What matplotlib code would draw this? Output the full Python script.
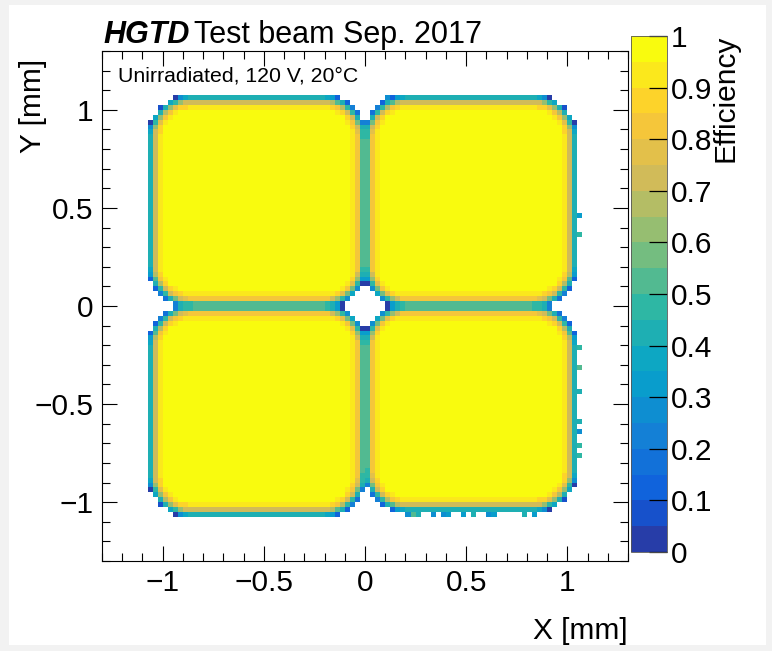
import numpy as np
import matplotlib
matplotlib.use("Agg")
import matplotlib.pyplot as plt
from matplotlib.colors import LinearSegmentedColormap, ListedColormap, BoundaryNorm
from matplotlib.patches import Rectangle
from matplotlib.ticker import FixedLocator, FuncFormatter, MultipleLocator

plt.rcParams["font.family"] = ["Liberation Sans", "DejaVu Sans"]

# ---- binning (mm) ----
x_range = (-1.3, 1.3)
y_range = (-1.3, 1.3)
n_bins = 104

# ---- pad layout: 2x2 pads, rectangle edges in mm (TL, TR, BL, BR) ----
pad_x0 = [-1.055, 0.0125, -1.055, 0.0125]
pad_x1 = [-0.0125, 1.03, -0.0125, 1.03]
pad_y0 = [0.0125, 0.0125, -1.055, -1.03]
pad_y1 = [1.055, 1.055, -0.0125, -0.0125]
corner_radius = 0.2

# ---- efficiency vs. depth inside the pad edge (mm) ----
edge_depth = [-0.025, -0.0125, 0.0, 0.0125, 0.025, 0.045, 0.065]
edge_eff = [0.0, 0.36, 0.50, 0.68, 0.82, 0.93, 1.0]

# ---- isolated bins just outside the right and bottom edges ----
extra_x = [1.0625, 1.0625, 1.0625, 1.0625, 1.0625, 1.0625, 1.0625, 1.0625, 1.0625,
           0.2125, 0.2375, 0.2625, 0.3375, 0.3875, 0.4125, 0.4875, 0.5375,
           0.6125, 0.6375, 0.7875, 0.8375, 0.1125]
extra_y = [0.4625, 0.3625, -0.2125, -0.3125, -0.4375, -0.5875, -0.6375, -0.7125, -0.7625,
           -1.0625, -1.0625, -1.0625, -1.0625, -1.0625, -1.0625, -1.0625, -1.0625,
           -1.0625, -1.0625, -1.0625, -1.0625, 1.0625]
extra_eff = [0.35, 0.45, 0.45, 0.50, 0.40, 0.40, 0.30, 0.45, 0.45,
             0.30, 0.50, 0.40, 0.30, 0.30, 0.35, 0.35, 0.40,
             0.30, 0.35, 0.40, 0.35, 0.25]

# ---- colour scale: ROOT kBird palette, 20 contour levels ----
bird_stops = [0.0, 0.125, 0.25, 0.375, 0.5, 0.625, 0.75, 0.875, 1.0]
bird_r = [0.2082, 0.0592, 0.0780, 0.0232, 0.1802, 0.5301, 0.8186, 0.9956, 0.9764]
bird_g = [0.1664, 0.3599, 0.5041, 0.6419, 0.7178, 0.7492, 0.7328, 0.7862, 0.9832]
bird_b = [0.5293, 0.8684, 0.8385, 0.7914, 0.6425, 0.4662, 0.3499, 0.1968, 0.0539]
n_levels = 20


def pad_depth(X, Y, x0, x1, y0, y1, r):
    """Signed distance to a rounded rectangle's edge, positive inside."""
    cx, cy = 0.5 * (x0 + x1), 0.5 * (y0 + y1)
    hx, hy = 0.5 * (x1 - x0), 0.5 * (y1 - y0)
    qx = np.abs(X - cx) - (hx - r)
    qy = np.abs(Y - cy) - (hy - r)
    outside = (np.hypot(np.maximum(qx, 0), np.maximum(qy, 0))
               + np.minimum(np.maximum(qx, qy), 0) - r)
    return -outside


x_edges = np.linspace(*x_range, n_bins + 1)
y_edges = np.linspace(*y_range, n_bins + 1)
xc = 0.5 * (x_edges[:-1] + x_edges[1:])
yc = 0.5 * (y_edges[:-1] + y_edges[1:])
XC, YC = np.meshgrid(xc, yc)

miss = np.ones_like(XC)
for x0, x1, y0, y1 in zip(pad_x0, pad_x1, pad_y0, pad_y1):
    d = pad_depth(XC, YC, x0, x1, y0, y1, corner_radius)
    miss *= 1.0 - np.interp(d, edge_depth, edge_eff)
eff = 1.0 - miss

for ex, ey, ev in zip(extra_x, extra_y, extra_eff):
    ix = np.argmin(np.abs(xc - ex))
    iy = np.argmin(np.abs(yc - ey))
    eff[iy, ix] = max(eff[iy, ix], ev)

eff = np.ma.masked_less_equal(eff, 1e-6)

bird = LinearSegmentedColormap(
    "bird",
    {"red": [(s, v, v) for s, v in zip(bird_stops, bird_r)],
     "green": [(s, v, v) for s, v in zip(bird_stops, bird_g)],
     "blue": [(s, v, v) for s, v in zip(bird_stops, bird_b)]},
    N=255,
)
level_colors = [bird(int((i + 0.99) * 255 / n_levels) / 254.0) for i in range(n_levels)]
cmap = ListedColormap(level_colors)
norm = BoundaryNorm(np.linspace(0, 1, n_levels + 1), n_levels)

# ---- figure ----
W, H = 772, 651
FS = 21.5
fig = plt.figure(figsize=(W / 100, H / 100), dpi=100, facecolor="#f2f2f2")
fig.patches.append(Rectangle((9 / W, 1 - 645 / H), (766 - 9) / W, (645 - 5) / H,
                             transform=fig.transFigure, facecolor="white",
                             edgecolor="none", zorder=-10))

ax = fig.add_axes([102 / W, 1 - 561 / H, (628 - 102) / W, (561 - 51) / H])
ax.set_facecolor("white")
mesh = ax.pcolormesh(x_edges, y_edges, eff, cmap=cmap, norm=norm, shading="flat")
ax.set_xlim(*x_range)
ax.set_ylim(*y_range)

fmt = FuncFormatter(lambda v, p: ("%g" % v).replace("-", "\u2212"))
for axis in (ax.xaxis, ax.yaxis):
    axis.set_major_locator(FixedLocator([-1, -0.5, 0, 0.5, 1]))
    axis.set_minor_locator(MultipleLocator(0.1))
    axis.set_major_formatter(fmt)
ax.tick_params(which="both", direction="in", top=True, right=True, width=0.8, colors="black")
ax.tick_params(which="major", length=11, labelsize=FS, pad=6)
ax.tick_params(which="minor", length=5.5)
for sp in ax.spines.values():
    sp.set_linewidth(0.8)

# axis titles, right/top aligned
fig.text(628 / W, 1 - 617 / H, "X [mm]", fontsize=FS, ha="right", va="top")
fig.text(33 / W, 1 - 59 / H, "Y [mm]", fontsize=FS, rotation=90, ha="center", va="top")

# ---- colour bar ----
cax = fig.add_axes([631 / W, 1 - 552 / H, 36 / W, (552 - 36) / H])
cb = fig.colorbar(mesh, cax=cax, ticks=np.round(np.arange(0, 1.01, 0.1), 1))
cb.outline.set_linewidth(0.6)
cb.outline.set_edgecolor("#555555")
cax.yaxis.set_major_formatter(FuncFormatter(lambda v, p: "%g" % round(v, 1)))
cax.tick_params(direction="in", length=13, width=0.9, labelsize=FS, pad=3)
cax.minorticks_off()
fig.text(725 / W, 1 - 35 / H, "Efficiency", rotation=90, fontsize=FS,
         ha="center", va="top")

# ---- labels ----
fig.text(103 / W, 1 - 43 / H, "HGTD", fontsize=22, fontweight="bold",
         fontstyle="italic", ha="left", va="baseline")
fig.text(194 / W, 1 - 43 / H, "Test beam Sep. 2017", fontsize=22,
         ha="left", va="baseline")
fig.text(118 / W, 1 - 81 / H, "Unirradiated, 120 V, 20\u00b0C", fontsize=15.3,
         ha="left", va="baseline")

fig.savefig("out.png", dpi=100, facecolor=fig.get_facecolor())
